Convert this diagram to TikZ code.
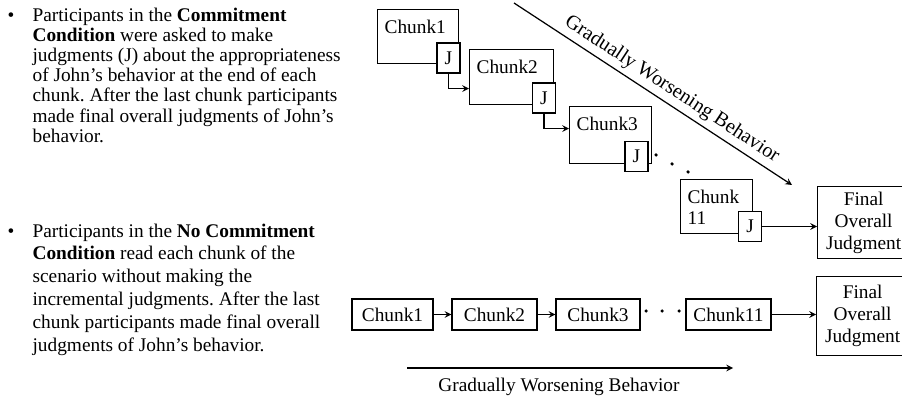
\documentclass[tikz,border=0pt]{standalone}
\usepackage{fontspec}
\setmainfont{Liberation Serif}
\usetikzlibrary{calc,shapes}
\frenchspacing
\tikzstyle{chunk}=[draw,fill=white,anchor=north west,align=left,inner xsep=0.14cm,inner ysep=0.1cm,text height=0.38cm]
\tikzstyle{jbox}=[draw,fill=white,minimum width=0.46cm,minimum height=0.6cm,inner sep=0pt]
\tikzstyle{bchunk}=[draw,fill=white,minimum height=0.62cm,inner sep=0pt]
\tikzstyle{final}=[draw,fill=white,anchor=north west,align=center,inner sep=0pt,minimum width=1.84cm]
\tikzstyle{para}=[anchor=north west,align=left,inner sep=0pt]

\begin{document}
\begin{tikzpicture}[>=stealth,x=0.02cm,y=-0.02cm,line width=0.7pt,font=\fontsize{11}{12.5}\selectfont]

      \useasboundingbox (0,0) rectangle (902,401);
      \clip (0,0) rectangle (902,401);

      % text on the left
      \node (bul1) at (11,17) {\textbullet};
      \node[para,font=\fontsize{11}{11.5}\selectfont] (txt1) at (32,7) {Participants in the \textbf{Commitment}\\
        \textbf{Condition} were asked to make\\
        judgments (J) about the appropriateness\\
        of John's behavior at the end of each\\
        chunk. After the last chunk participants\\
        made final overall judgments of John's\\
        behavior.};

      \node (bul2) at (11,233) {\textbullet};
      \node[para,font=\fontsize{11}{13}\selectfont] (txt2) at (32,223) {Participants in the \textbf{No Commitment}\\
        \textbf{Condition} read each chunk of the\\
        scenario without making the\\
        incremental judgments. After the last\\
        chunk participants made final overall\\
        judgments of John's behavior.};

      % commitment condition
      \node[chunk,text width=1.34cm,text depth=0.5cm] (c1) at (377,9) {Chunk1};
      \node[jbox] (j1) at (448.5,58) {J};
      \node[chunk,text width=1.40cm,text depth=0.52cm] (c2) at (469,49) {Chunk2};
      \node[jbox] (j2) at (544,98) {J};
      \node[chunk,text width=1.36cm,text depth=0.56cm] (c3) at (569,106) {Chunk3};
      \node[jbox] (j3) at (636.5,156.5) {J};
      \node[chunk,text width=1.16cm,text depth=0.5cm,font=\fontsize{11}{12}\selectfont] (c11) at (680,179) {Chunk\\11};
      \node[jbox] (j11) at (750,226.5) {J};
      \node[final,minimum height=1.44cm] (f1) at (817,186) {Final\\Overall\\Judgment};

      \draw[->] (j1.south) |- ($(c2.west)+(0,11.5)$);
      \draw[->] (j2.south) |- ($(c3.west)+(0,-6.5)$);
      \draw[->] (j11.east) -- (j11.east -| f1.west);

      \foreach \p in {(656,155),(672,164),(688,172)} {
          \fill \p circle (1pt);
      }

      \coordinate (gw1) at (514,3);
      \coordinate (gw2) at (792,185);
      \draw[->] (gw1) -- node[pos=0.54,sloped,above,inner sep=2.5pt,font=\fontsize{11.5}{12}\selectfont] (gwlab) {Gradually Worsening Behavior} (gw2);

      % no commitment condition
      \node[bchunk,minimum width=1.62cm] (b1) at (392.5,314.5) {Chunk1};
      \node[bchunk,minimum width=1.70cm] (b2) at (494.5,314.5) {Chunk2};
      \node[bchunk,minimum width=1.68cm] (b3) at (598,314.5) {Chunk3};
      \node[bchunk,minimum width=1.70cm] (b11) at (728.5,314.5) {Chunk11};
      \node[final,minimum height=1.58cm] (f2) at (816,276) {Final\\Overall\\Judgment};

      \draw[->] (b1) -- (b2);
      \draw[->] (b2) -- (b3);
      \draw[->] (b11.east) -- (b11.east -| f2.west);

      \foreach \x in {646,662,679} {
          \fill (\x,311) circle (1pt);
      }

      \coordinate (bw1) at (407,368);
      \coordinate (bw2) at (733,368);
      \draw[->] (bw1) -- (bw2);
      \node (bwlab) at (559,387) {Gradually Worsening Behavior};

\end{tikzpicture}
\end{document}
